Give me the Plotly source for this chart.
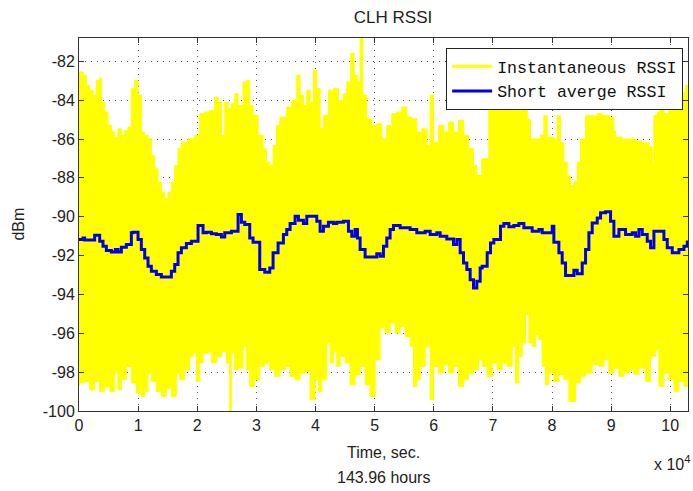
import plotly.graph_objects as go

# ---------------- data ----------------
# Instantaneous RSSI: upper and lower envelope of the dense yellow trace
t_upper = [0, 113, 677, 1241, 1805, 2369, 2933, 3497, 3779, 4343, 4907, 5471, 6035, 6600, 7163,
           7727, 8291, 8855, 9419, 9983, 10547, 11111, 11675, 12239, 12803, 13367, 13931, 14495,
           15059, 15623, 16187, 16751, 17315, 18443, 19571, 20417, 21263, 22109, 22955, 23519,
           24083, 24647, 25211, 25775, 26339, 26903, 27749, 28313, 28877, 29441, 30287, 31133,
           31697, 32261, 32825, 33389, 33953, 34010, 35138, 35984, 36830, 37394, 37958, 38522,
           39086, 39650, 40214, 40778, 41342, 42188, 43034, 43880, 44726, 45290, 45967, 46531,
           47095, 47546, 47997, 48674, 49520, 50366, 51212, 52058, 52904, 53750, 54596, 55442,
           56288, 57134, 57980, 58826, 59390, 59954, 60800, 61646, 62492, 63338, 64184, 65030,
           65876, 66722, 67286, 68132, 69318, 70446, 71574, 72702, 73830, 74958, 75804, 76368,
           77214, 78060, 78624, 79188, 80316, 80880, 81444, 82008, 82572, 83136, 83700, 84264,
           84828, 85674, 86520, 87648, 88494, 89622, 90468, 90750, 91878, 93006, 94134, 95262,
           96390, 96954, 97236, 97800, 98364, 98928, 99774, 100620, 101466, 102030, 102594, 103000]
rssi_upper = [-82.6, -82.55, -82.72, -83.24, -83.49, -83.75, -82.98, -82.89, -84.1, -84.61, -85.3,
              -85.64, -85.9, -85.47, -85.81, -85.56, -85.38, -83.41, -82.98, -83.75, -85.64, -85.81,
              -85.99, -86.85, -87.53, -88.22, -88.74, -89.08, -88.74, -88.22, -87.36, -86.5, -86.16,
              -85.99, -85.81, -84.7, -84.61, -84.53, -83.84, -84.1, -85.81, -84.1, -84.44, -84.18,
              -83.67, -84.27, -83.07, -82.98, -84.27, -84.78, -85.81, -86.5, -87.19, -87.36, -86.33,
              -85.3, -85.04, -84.87, -84.35, -84.01, -82.72, -83.75, -84.27, -83.49, -84.1, -82.46,
              -83.41, -85.47, -84.78, -83.49, -83.41, -84.01, -83.67, -83.07, -81.6, -82.72, -83.07,
              -80.8, -83.75, -84.96, -85.3, -85.21, -85.99, -85.3, -84.7, -84.61, -84.35, -84.87,
              -84.96, -85.64, -85.47, -86.33, -83.75, -86.16, -85.3, -85.64, -85.13, -85.64, -85.04,
              -85.81, -86.5, -87.36, -87.88, -87.02, -84.0, -83.8, -84.3, -84.1, -84.0, -84.4, -85.0,
              -85.99, -86.0, -85.8, -84.8, -85.9, -86.0, -84.8, -86.2, -87.2, -87.9, -88.4, -88.2,
              -87.2, -86.0, -84.8, -84.8, -84.7, -84.8, -84.9, -85.6, -85.9, -86.0, -86.0, -86.1,
              -86.2, -86.4, -87.3, -84.8, -84.6, -84.5, -84.7, -84.4, -84.5, -84.3, -83.6, -83.24,
              -83.8]

t_lower = [0, 113, 959, 1805, 2651, 3497, 4343, 5189, 6035, 6600, 7163, 8009, 8855, 9701, 10547,
           11111, 11675, 12239, 13085, 13931, 14777, 15623, 16469, 17033, 17879, 18725, 19289,
           19853, 20417, 20981, 21827, 22391, 23237, 24083, 24929, 25493, 25775, 26339, 26903,
           27749, 28313, 28877, 29723, 30569, 31415, 32261, 33107, 33953, 34856, 35702, 36548,
           37394, 38240, 39086, 39932, 40496, 41060, 41906, 42470, 43034, 43598, 44162, 45008,
           45854, 46700, 47546, 48392, 49238, 50084, 50930, 51776, 52622, 53468, 54314, 55160,
           56006, 56570, 57134, 57698, 58544, 59390, 59954, 60800, 61646, 62492, 63338, 64184,
           65030, 65876, 66722, 67568, 68190, 69036, 69882, 70728, 71574, 72420, 73266, 73830,
           74394, 74958, 75522, 76086, 76650, 77214, 77778, 78342, 78906, 79470, 80316, 81162,
           82008, 82854, 83982, 84828, 85674, 86802, 87930, 88776, 89622, 90468, 91314, 92160,
           93006, 93852, 94698, 95826, 96672, 97518, 98082, 98928, 99774, 100620, 101466, 102312,
           102876, 103000]
rssi_lower = [-98.7, -98.65, -98.56, -98.48, -98.91, -98.48, -98.99, -98.74, -98.99, -98.05, -98.91,
              -98.39, -97.7, -98.56, -99.08, -99.25, -98.99, -98.05, -98.48, -98.99, -99.25, -98.82,
              -99.25, -98.05, -98.39, -97.88, -97.19, -97.02, -98.48, -97.53, -97.02, -96.93, -97.53,
              -97.19, -96.93, -97.53, -100.0, -97.02, -97.88, -97.79, -96.67, -97.88, -98.74, -98.39,
              -97.7, -97.53, -97.88, -98.22, -97.88, -97.7, -98.22, -98.39, -98.05, -97.96, -99.42,
              -98.39, -98.99, -98.39, -96.5, -97.53, -96.93, -97.7, -97.19, -97.53, -98.65, -98.13,
              -97.7, -98.65, -99.25, -97.36, -95.73, -95.98, -95.47, -95.98, -95.64, -96.16, -96.67,
              -98.74, -98.39, -97.7, -96.67, -99.42, -97.7, -98.05, -97.62, -98.05, -97.7, -98.74,
              -98.39, -98.05, -97.88, -97.36, -97.7, -98.22, -97.53, -97.88, -97.53, -97.7, -96.67,
              -98.56, -97.19, -96.5, -95.04, -96.5, -96.67, -96.07, -96.33, -97.7, -98.65, -98.05,
              -98.48, -98.13, -98.39, -99.5, -98.56, -98.22, -98.05, -97.62, -97.7, -97.36, -98.05,
              -97.79, -98.22, -98.05, -97.88, -98.13, -97.79, -98.48, -97.19, -96.84, -98.74, -98.05,
              -98.39, -98.99, -98.48, -98.74, -98.7]

# Short average RSSI (step series: value holds from each start time)
t_avg = [0, 677, 959, 2651, 3497, 4061, 4625, 5471, 6148, 6599, 7163, 8009, 8855, 9137, 9983,
         10547, 11111, 11675, 12239, 13085, 13931, 15623, 16187, 16751, 17315, 18161, 19007,
         20135, 20981, 21545, 22391, 23237, 24083, 24647, 25775, 26903, 27467, 28031, 28877,
         29441, 30569, 31415, 32261, 32825, 33671, 34574, 35138, 35702, 36548, 37112, 37958,
         38522, 40214, 40778, 41342, 42188, 43034, 43598, 44726, 45572, 46136, 46700, 47095,
         47546, 48392, 50366, 50930, 51494, 52058, 52622, 53186, 54314, 56006, 57134, 58544,
         59390, 60518, 61082, 62210, 63338, 63902, 64466, 65030, 65594, 66158, 66722, 67286,
         67850, 68190, 69036, 69600, 70164, 71292, 71856, 72702, 73548, 74394, 75240, 76650,
         77778, 78342, 80034, 80316, 81162, 81726, 82290, 83700, 84264, 85110, 85674, 86238,
         86802, 87648, 88212, 89058, 89904, 90468, 91314, 92442, 93570, 94134, 94698, 95262,
         96108, 96672, 97236, 98928, 99492, 100338, 101466, 102312, 102876, 103000]
rssi_avg = [-91.17, -91.09, -91.2, -90.95, -91.26, -91.52, -91.74, -91.81, -91.69, -91.81, -91.57,
            -91.43, -90.83, -90.8, -91.17, -91.69, -92.12, -92.55, -92.81, -92.98, -93.1, -92.81,
            -92.46, -91.86, -91.6, -91.38, -91.26, -90.45, -90.83, -90.8, -90.88, -90.92, -91.04,
            -90.83, -90.75, -89.89, -90.28, -90.4, -91.09, -91.31, -92.72, -92.86, -92.64, -91.86,
            -91.35, -90.92, -90.66, -90.35, -89.97, -90.18, -90.35, -89.97, -90.23, -90.75, -90.49,
            -90.28, -90.35, -90.28, -90.23, -90.75, -91.0, -90.66, -91.09, -91.69, -92.07, -91.91,
            -92.03, -91.52, -91.09, -90.66, -90.45, -90.57, -90.66, -90.83, -90.75, -90.92, -90.83,
            -91.0, -91.14, -91.43, -91.17, -91.86, -92.38, -92.72, -93.24, -93.67, -93.32, -92.64,
            -92.55, -91.86, -91.35, -91.17, -90.49, -90.35, -90.52, -90.45, -90.35, -90.57, -90.75,
            -90.66, -90.83, -90.49, -91.31, -91.86, -92.38, -93.03, -92.76, -92.93, -92.38, -91.69,
            -90.83, -90.32, -90.06, -89.8, -89.75, -90.23, -91.0, -90.66, -90.92, -90.83, -91.0,
            -90.66, -90.92, -91.26, -91.6, -90.75, -91.17, -91.6, -91.86, -91.69, -91.52, -91.3,
            -91.3]

x_tickvals = [0, 10000, 20000, 30000, 40000, 50000, 60000, 70000, 80000, 90000, 100000]
x_ticktext = ["0", "1", "2", "3", "4", "5", "6", "7", "8", "9", "10"]
y_tickvals = [-100, -98, -96, -94, -92, -90, -88, -86, -84, -82]
y_ticktext = ["-100", "-98", "-96", "-94", "-92", "-90", "-88", "-86", "-84", "-82"]

# ---------------- figure ----------------
YELLOW = "#FFFF00"
BLUE = "#0000E6"
SANS = "Liberation Sans, Arial, sans-serif"
TXT = "#222222"

band_x = t_upper + t_lower[::-1]
band_y = rssi_upper + rssi_lower[::-1]

fig = go.Figure()
fig.add_trace(go.Scatter(x=band_x, y=band_y, fill="toself", fillcolor=YELLOW,
                         mode="lines", line=dict(color=YELLOW, width=1, shape="hv"),
                         showlegend=False, hoverinfo="skip"))
fig.add_trace(go.Scatter(x=[None], y=[None], mode="lines",
                         line=dict(color=YELLOW, width=3), name="Instantaneous RSSI"))
fig.add_trace(go.Scatter(x=t_avg, y=rssi_avg, mode="lines", line_shape="hv",
                         line=dict(color=BLUE, width=3), name="Short averge RSSI"))

axis_common = dict(showline=True, linecolor="#333333", linewidth=1, mirror="ticks",
                   ticks="inside", ticklen=5, tickcolor="#333333",
                   showgrid=True, gridcolor="#555555", gridwidth=1, griddash="1px,5px",
                   zeroline=False, tickfont=dict(family=SANS, size=16, color=TXT))

fig.update_xaxes(range=[0, 103000], tickvals=x_tickvals, ticktext=x_ticktext, **axis_common)
fig.update_yaxes(range=[-100, -80.8], tickvals=y_tickvals, ticktext=y_ticktext, **axis_common)

fig.update_layout(
    width=693, height=491,
    margin=dict(l=79, r=5, t=38, b=80),
    paper_bgcolor="white", plot_bgcolor="white",
    title=dict(text="CLH RSSI", x=393 / 693, xanchor="center",
               y=1 - 17 / 491, yanchor="middle",
               font=dict(family=SANS, size=17, color=TXT)),
    legend=dict(x=0.992, y=0.973, xanchor="right", yanchor="top",
                bgcolor="white", bordercolor="#222222", borderwidth=1,
                font=dict(family="Liberation Mono, Courier New, monospace", size=16.6, color="#111111"),
                itemwidth=40, tracegroupgap=0),
    annotations=[
        dict(text="Time, sec.", xref="paper", yref="paper", x=0.5, y=-0.1126,
             xanchor="center", yanchor="middle", showarrow=False,
             font=dict(family=SANS, size=16, color=TXT)),
        dict(text="143.96 hours", xref="paper", yref="paper", x=0.5, y=-0.177,
             xanchor="center", yanchor="middle", showarrow=False,
             font=dict(family=SANS, size=16, color=TXT)),
        dict(text="x 10<sup>4</sup>", xref="paper", yref="paper", x=1.0066, y=-0.139,
             xanchor="right", yanchor="middle", showarrow=False,
             font=dict(family=SANS, size=16, color=TXT)),
        dict(text="dBm", xref="paper", yref="paper", x=-0.1, y=0.5, textangle=-90,
             xanchor="center", yanchor="middle", showarrow=False,
             font=dict(family=SANS, size=16, color=TXT)),
    ],
)

fig.write_html("out.html")
